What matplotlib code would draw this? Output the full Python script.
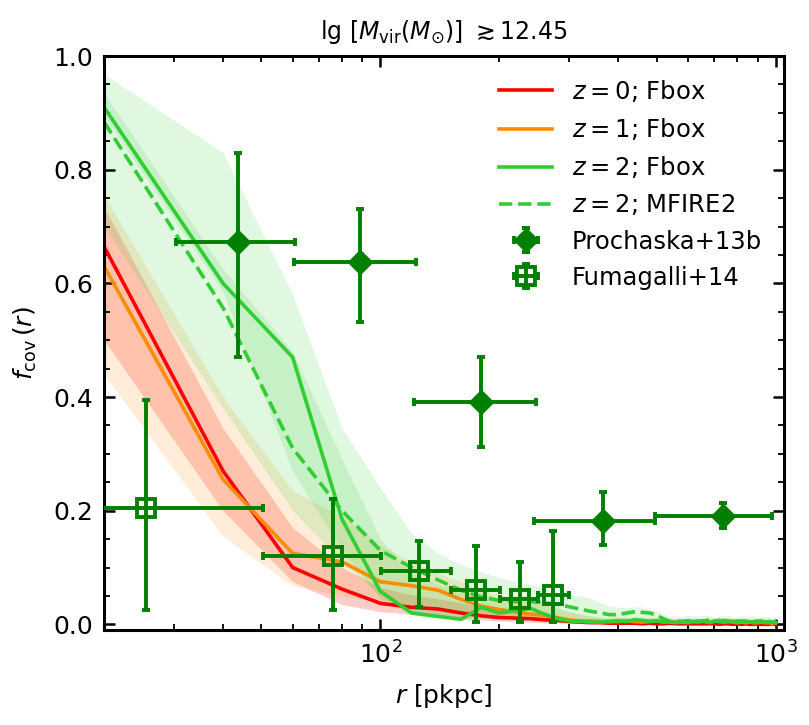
import numpy as np
import matplotlib
matplotlib.use('Agg')
import matplotlib.pyplot as plt
from matplotlib.ticker import MultipleLocator

# radial bins [pkpc]
r = np.arange(20, 1001, 20)

# covering fraction, Fbox z=0
fz0 = [0.665, 0.270, 0.100, 0.062, 0.037, 0.030, 0.027, 0.020, 0.015, 0.012,
       0.011, 0.010, 0.008, 0.007, 0.005, 0.004, 0.003, 0.003, 0.002, 0.002,
       0.002, 0.002, 0.001, 0.002, 0.001, 0.001, 0.002, 0.001, 0.001, 0.001,
       0.001, 0.001, 0.001, 0.001, 0.001, 0.000, 0.001, 0.001, 0.000, 0.001,
       0.000, 0.001, 0.000, 0.000, 0.001, 0.000, 0.000, 0.000, 0.001, 0.000]
fz0_lo = [0.500, 0.200, 0.075, 0.035, 0.022, 0.018, 0.015, 0.010, 0.008, 0.006,
          0.005, 0.004, 0.003, 0.003, 0.002, 0.001, 0.001, 0.001, 0.000, 0.000,
          0.000, 0.000, 0.000, 0.000, 0.000, 0.000, 0.000, 0.000, 0.000, 0.000,
          0.000, 0.000, 0.000, 0.000, 0.000, 0.000, 0.000, 0.000, 0.000, 0.000,
          0.000, 0.000, 0.000, 0.000, 0.000, 0.000, 0.000, 0.000, 0.000, 0.000]
fz0_hi = [0.735, 0.345, 0.170, 0.100, 0.065, 0.052, 0.045, 0.038, 0.030, 0.026,
          0.024, 0.022, 0.018, 0.015, 0.011, 0.009, 0.007, 0.006, 0.005, 0.005,
          0.005, 0.004, 0.004, 0.004, 0.003, 0.003, 0.004, 0.003, 0.003, 0.003,
          0.003, 0.003, 0.003, 0.003, 0.003, 0.002, 0.003, 0.003, 0.002, 0.003,
          0.002, 0.003, 0.002, 0.002, 0.003, 0.002, 0.002, 0.002, 0.003, 0.002]

# Fbox z=1
fz1 = [0.630, 0.255, 0.125, 0.110, 0.075, 0.068, 0.060, 0.044, 0.032, 0.026,
       0.022, 0.018, 0.016, 0.012, 0.008, 0.006, 0.006, 0.005, 0.005, 0.005,
       0.006, 0.005, 0.004, 0.005, 0.006, 0.004, 0.005, 0.004, 0.005, 0.006,
       0.005, 0.006, 0.005, 0.004, 0.006, 0.005, 0.004, 0.005, 0.004, 0.003,
       0.004, 0.003, 0.004, 0.003, 0.003, 0.004, 0.003, 0.003, 0.002, 0.003]
fz1_lo = [0.440, 0.155, 0.068, 0.050, 0.040, 0.035, 0.030, 0.022, 0.016, 0.012,
          0.010, 0.008, 0.006, 0.004, 0.003, 0.002, 0.002, 0.002, 0.001, 0.001,
          0.002, 0.001, 0.001, 0.001, 0.002, 0.001, 0.001, 0.001, 0.001, 0.002,
          0.001, 0.002, 0.001, 0.001, 0.002, 0.001, 0.001, 0.001, 0.001, 0.001,
          0.001, 0.001, 0.001, 0.001, 0.001, 0.001, 0.001, 0.001, 0.000, 0.001]
fz1_hi = [0.755, 0.400, 0.235, 0.190, 0.140, 0.110, 0.090, 0.075, 0.060, 0.050,
          0.045, 0.040, 0.035, 0.028, 0.022, 0.018, 0.015, 0.013, 0.012, 0.012,
          0.012, 0.011, 0.010, 0.011, 0.012, 0.010, 0.011, 0.010, 0.010, 0.011,
          0.010, 0.011, 0.010, 0.009, 0.011, 0.010, 0.009, 0.010, 0.009, 0.008,
          0.009, 0.008, 0.009, 0.008, 0.008, 0.009, 0.008, 0.008, 0.007, 0.008]

# Fbox z=2
fz2 = [0.910, 0.600, 0.470, 0.185, 0.058, 0.020, 0.014, 0.009, 0.030, 0.020,
       0.024, 0.028, 0.018, 0.010, 0.006, 0.005, 0.004, 0.004, 0.005, 0.006,
       0.005, 0.008, 0.007, 0.005, 0.006, 0.005, 0.004, 0.003, 0.004, 0.003,
       0.005, 0.004, 0.006, 0.003, 0.005, 0.007, 0.004, 0.006, 0.005, 0.003,
       0.006, 0.004, 0.005, 0.003, 0.004, 0.006, 0.003, 0.005, 0.004, 0.003]
fz2_lo = [0.895, 0.585, 0.270, 0.130, 0.045, 0.015, 0.010, 0.006, 0.018, 0.012,
          0.014, 0.016, 0.010, 0.006, 0.003, 0.002, 0.002, 0.002, 0.002, 0.003,
          0.002, 0.004, 0.003, 0.002, 0.003, 0.002, 0.002, 0.001, 0.002, 0.001,
          0.002, 0.002, 0.003, 0.001, 0.002, 0.003, 0.002, 0.003, 0.002, 0.001,
          0.003, 0.002, 0.002, 0.001, 0.002, 0.003, 0.001, 0.002, 0.002, 0.001]
fz2_hi = [0.935, 0.625, 0.480, 0.290, 0.150, 0.090, 0.070, 0.058, 0.055, 0.045,
          0.045, 0.045, 0.040, 0.030, 0.022, 0.018, 0.015, 0.012, 0.012, 0.014,
          0.012, 0.014, 0.013, 0.012, 0.012, 0.010, 0.009, 0.008, 0.009, 0.008,
          0.010, 0.009, 0.011, 0.008, 0.010, 0.012, 0.009, 0.011, 0.010, 0.008,
          0.011, 0.009, 0.010, 0.008, 0.009, 0.011, 0.008, 0.010, 0.009, 0.008]

# MFIRE2 z=2
fmf = [0.884, 0.557, 0.310, 0.200, 0.130, 0.100, 0.078, 0.060, 0.048, 0.042,
       0.040, 0.040, 0.038, 0.035, 0.031, 0.027, 0.023, 0.020, 0.017, 0.017,
       0.020, 0.022, 0.021, 0.020, 0.016, 0.010, 0.005, 0.006, 0.005, 0.006,
       0.007, 0.005, 0.006, 0.008, 0.006, 0.005, 0.007, 0.006, 0.005, 0.006,
       0.005, 0.006, 0.004, 0.005, 0.006, 0.004, 0.005, 0.006, 0.004, 0.005]
fmf_lo = [0.700, 0.380, 0.200, 0.110, 0.050, 0.020, 0.012, 0.008, 0.010, 0.010,
          0.010, 0.010, 0.008, 0.006, 0.004, 0.003, 0.003, 0.003, 0.002, 0.002,
          0.002, 0.002, 0.002, 0.002, 0.002, 0.002, 0.001, 0.001, 0.001, 0.001,
          0.001, 0.001, 0.001, 0.001, 0.001, 0.001, 0.001, 0.001, 0.001, 0.001,
          0.001, 0.001, 0.001, 0.001, 0.001, 0.001, 0.001, 0.001, 0.001, 0.001]
fmf_hi = [0.968, 0.830, 0.580, 0.345, 0.240, 0.160, 0.125, 0.105, 0.092, 0.082,
          0.076, 0.070, 0.063, 0.057, 0.052, 0.050, 0.046, 0.038, 0.032, 0.030,
          0.030, 0.031, 0.030, 0.027, 0.024, 0.018, 0.014, 0.015, 0.014, 0.016,
          0.015, 0.014, 0.016, 0.015, 0.013, 0.015, 0.014, 0.016, 0.013, 0.014,
          0.015, 0.013, 0.014, 0.015, 0.012, 0.014, 0.013, 0.014, 0.012, 0.013]

# observations
p13_r = [43.7, 89.0, 180.0, 365.0, 737.0]
p13_rlo = [30.5, 60.5, 122.0, 245.0, 494.0]
p13_rhi = [61.0, 123.0, 247.0, 494.0, 980.0]
p13_f = [0.672, 0.638, 0.391, 0.181, 0.191]
p13_flo = [0.470, 0.532, 0.312, 0.140, 0.170]
p13_fhi = [0.830, 0.730, 0.470, 0.232, 0.214]

f14_r = [25.5, 75.8, 125.0, 175.0, 225.0, 273.0]
f14_rlo = [5.0, 50.5, 100.5, 150.5, 200.5, 250.0]
f14_rhi = [50.5, 100.5, 150.5, 200.5, 250.0, 300.0]
f14_f = [0.205, 0.120, 0.093, 0.060, 0.044, 0.051]
f14_flo = [0.025, 0.025, 0.030, 0.004, 0.004, 0.004]
f14_fhi = [0.395, 0.220, 0.146, 0.137, 0.109, 0.165]

fs = 18
plt.rcParams['font.size'] = fs
plt.rcParams['mathtext.fontset'] = 'dejavusans'

fig = plt.figure(figsize=(8.09, 7.25), dpi=100)
ax = fig.add_axes([0.1286, 0.131, 0.8405, 0.7917])

ax.fill_between(r, fz0_lo, fz0_hi, color='red', alpha=0.2, lw=0)
ax.fill_between(r, fz1_lo, fz1_hi, color='darkorange', alpha=0.15, lw=0)
ax.fill_between(r, fmf_lo, fmf_hi, color='limegreen', alpha=0.15, lw=0)
ax.fill_between(r, fz2_lo, fz2_hi, color='limegreen', alpha=0.15, lw=0)

lw = 2.6
ax.plot(r, fz0, color='red', lw=lw, label=r'$z=0$; Fbox')
ax.plot(r, fz1, color='darkorange', lw=lw, label=r'$z=1$; Fbox')
ax.plot(r, fz2, color='limegreen', lw=lw, label=r'$z=2$; Fbox')
ax.plot(r, fmf, color='limegreen', lw=lw, ls='--', label=r'$z=2$; MFIRE2')

def errs(c, lo, hi):
    c = np.asarray(c)
    return [c - np.asarray(lo), np.asarray(hi) - c]

ax.errorbar(p13_r, p13_f, xerr=errs(p13_r, p13_rlo, p13_rhi),
            yerr=errs(p13_f, p13_flo, p13_fhi), fmt='D', color='green',
            ms=12, elinewidth=2.8, capsize=3, capthick=2.8, zorder=5,
            label='Prochaska+13b')
ax.errorbar(f14_r, f14_f, xerr=errs(f14_r, f14_rlo, f14_rhi),
            yerr=errs(f14_f, f14_flo, f14_fhi), fmt='s', color='green',
            mfc='none', mec='green', mew=2.8, ms=13, elinewidth=2.8,
            capsize=3, capthick=2.8, zorder=5, label='Fumagalli+14')

ax.set_xscale('log')
ax.set_xlim(20, 1050)
ax.set_ylim(-0.01, 1.0)
ax.yaxis.set_major_locator(MultipleLocator(0.2))
ax.yaxis.set_minor_locator(MultipleLocator(0.05))
ax.tick_params(which='both', direction='in', top=True, right=True, labelsize=fs)
ax.tick_params(which='major', length=8, width=1.8, pad=8)
ax.tick_params(which='minor', length=4.5, width=1.3)
for s in ax.spines.values():
    s.set_linewidth(2.2)

ax.set_xlabel(r'$r$ [pkpc]', fontsize=fs, labelpad=10)
ax.set_ylabel(r'$f_{\rm cov}\,(r)$', fontsize=fs, labelpad=10)
ax.set_title(r'lg $[M_{\rm vir}(M_{\odot})]$ $\gtrsim$12.45', fontsize=17, pad=12)

ax.legend(loc='upper right', frameon=False, fontsize=17.5, handlelength=2.2,
          handletextpad=0.8, labelspacing=0.5)

fig.savefig('out.png', dpi=100)
